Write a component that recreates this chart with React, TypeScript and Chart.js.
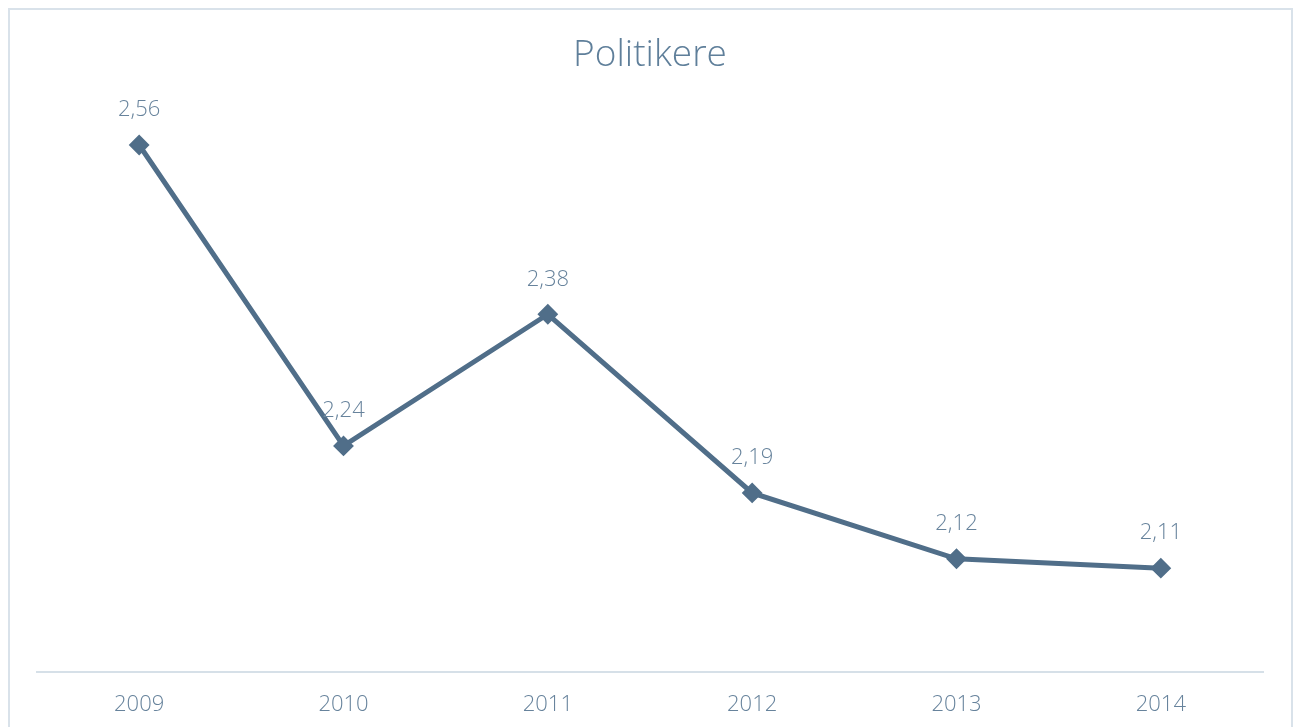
import React, { useEffect, useRef } from "react";
import { Chart, registerables } from "chart.js";

Chart.register(...registerables);

const years = ["2009", "2010", "2011", "2012", "2013", "2014"];
const values = [2.56, 2.24, 2.38, 2.19, 2.12, 2.11];
const chartTitle = "Politikere";

const lineColor = "#506e89";
const textColor = "#67839c";
const fontFamily = "'Open Sans'";

const dataLabels = {
  id: "dataLabels",
  afterDatasetsDraw(chart: any) {
    const ctx = chart.ctx;
    const meta = chart.getDatasetMeta(0);
    ctx.save();
    ctx.font = "300 22px 'Open Sans'";
    ctx.fillStyle = textColor;
    ctx.textAlign = "center";
    ctx.textBaseline = "middle";
    meta.data.forEach((pt: any, i: number) => {
      const label = values[i].toFixed(2).replace(".", ",");
      ctx.fillText(label, pt.x, pt.y - 35);
    });
    ctx.restore();
  },
};

export default function App() {
  const ref = useRef<HTMLCanvasElement>(null);
  useEffect(() => {
    document.body.style.overflow = "hidden";
    const chart = new Chart(ref.current!, {
      type: "line",
      data: {
        labels: years,
        datasets: [
          {
            data: values,
            borderColor: lineColor,
            backgroundColor: lineColor,
            borderWidth: 5,
            pointStyle: "rectRot",
            pointRadius: 9,
            pointBorderWidth: 2,
            pointBackgroundColor: lineColor,
            pointBorderColor: lineColor,
            tension: 0,
          },
        ],
      },
      options: {
        animation: false,
        responsive: true,
        maintainAspectRatio: false,
        layout: { padding: { left: 27, right: 28, top: 0, bottom: 8 } },
        plugins: {
          legend: { display: false },
          tooltip: { enabled: false },
          title: {
            display: true,
            text: chartTitle,
            color: "#5f7f9a",
            font: { family: fontFamily, size: 37, weight: "300" as any },
            padding: { top: 23, bottom: 30 },
          },
        },
        scales: {
          x: {
            offset: true,
            grid: { display: false, drawTicks: false },
            border: { display: true, color: "#d6e0e8", width: 2 },
            ticks: {
              color: textColor,
              padding: 20,
              font: { family: fontFamily, size: 22, weight: "300" as any },
            },
          },
          y: {
            display: false,
            min: 2.0,
            max: 2.6,
          },
        },
      },
      plugins: [dataLabels],
    });
    return () => chart.destroy();
  }, []);

  return (
    <div
      style={{
        width: 1285,
        height: 740,
        border: "2px solid #d9e2ea",
        boxSizing: "border-box",
        position: "relative",
      }}
    >
      <canvas ref={ref} />
    </div>
  );
}
